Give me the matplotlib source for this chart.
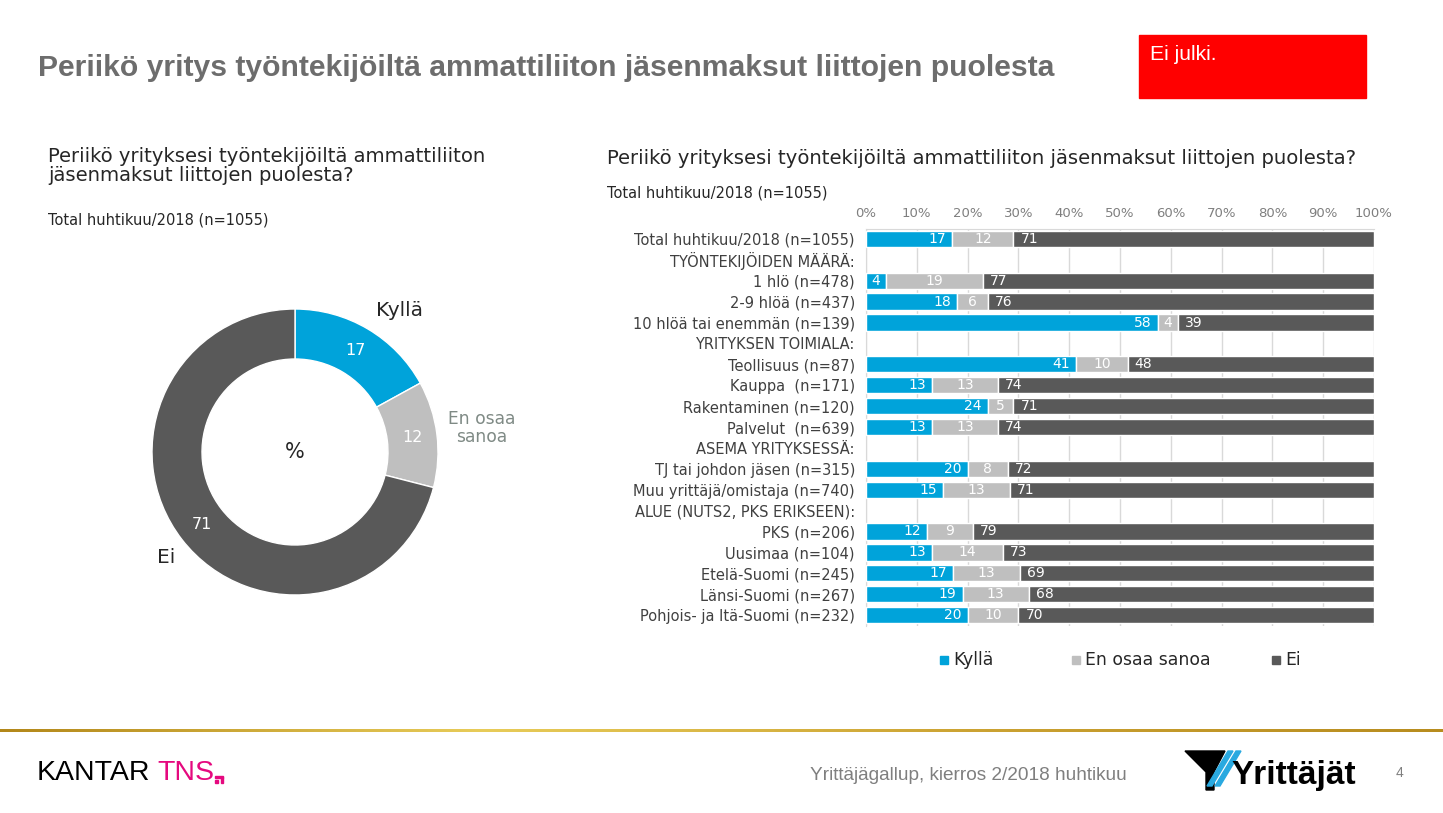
import numpy as np
import matplotlib.pyplot as plt
from matplotlib.patches import Rectangle, Polygon

# Data
categories = ['Total huhtikuu/2018 (n=1055)', 'TYÖNTEKIJÖIDEN MÄÄRÄ:', '1 hlö (n=478)',
              '2-9 hlöä (n=437)', '10 hlöä tai enemmän (n=139)', 'YRITYKSEN TOIMIALA:',
              'Teollisuus (n=87)', 'Kauppa  (n=171)', 'Rakentaminen (n=120)', 'Palvelut  (n=639)',
              'ASEMA YRITYKSESSÄ:', 'TJ tai johdon jäsen (n=315)', 'Muu yrittäjä/omistaja (n=740)',
              'ALUE (NUTS2, PKS ERIKSEEN):', 'PKS (n=206)', 'Uusimaa (n=104)', 'Etelä-Suomi (n=245)',
              'Länsi-Suomi (n=267)', 'Pohjois- ja Itä-Suomi (n=232)']
kylla = [17, None, 4, 18, 58, None, 41, 13, 24, 13, None, 20, 15, None, 12, 13, 17, 19, 20]
en_osaa = [12, None, 19, 6, 4, None, 10, 13, 5, 13, None, 8, 13, None, 9, 14, 13, 13, 10]
ei = [71, None, 77, 76, 39, None, 48, 74, 71, 74, None, 72, 71, None, 79, 73, 69, 68, 70]
series_names = ['Kyllä', 'En osaa sanoa', 'Ei']
x_ticks = [0, 10, 20, 30, 40, 50, 60, 70, 80, 90, 100]

donut_labels = ['Kyllä', 'En osaa\nsanoa', 'Ei']
donut_values = [17, 12, 71]

BLUE = '#00A3DA'
LGRAY = '#BFBFBF'
DGRAY = '#595959'
colors = [BLUE, LGRAY, DGRAY]

W, H = 1443, 813
def fx(x):
    return x / W
def fy(y):
    return 1 - y / H

plt.rcParams['font.family'] = ['DejaVu Sans']
fig = plt.figure(figsize=(W / 100, H / 100), dpi=100)

# Header
fig.text(fx(38), fy(68), 'Periikö yritys työntekijöiltä ammattiliiton jäsenmaksut liittojen puolesta',
         fontsize=21.7, fontweight='bold', color='#6d6d6d', family='Liberation Sans', va='center')
fig.patches.append(Rectangle((fx(1139), fy(98)), fx(1366) - fx(1139), fy(35) - fy(98),
                             transform=fig.transFigure, color='#FF0000', zorder=0))
fig.text(fx(1150), fy(55), 'Ei julki.', fontsize=15.2, color='white', family='Liberation Sans', va='center')

# Left: donut
fig.text(fx(48), fy(166), 'Periikö yrityksesi työntekijöiltä ammattiliiton\njäsenmaksut liittojen puolesta?',
         fontsize=14.1, color='#262626', va='center', linespacing=1.05)
fig.text(fx(48), fy(220), 'Total huhtikuu/2018 (n=1055)', fontsize=10.5, color='#262626', va='center')

ax_d = fig.add_axes([fx(145), fy(602), 300 / W, 300 / H])
wedges, _ = ax_d.pie(donut_values, colors=colors, startangle=90, counterclock=False,
                     radius=143 / 150, wedgeprops=dict(width=50 / 150, edgecolor='white', linewidth=1))
ax_d.set_xlim(-1, 1)
ax_d.set_ylim(-1, 1)
ax_d.set_aspect('equal')
ax_d.axis('off')
ax_d.text(0, 0, '%', ha='center', va='center', fontsize=15, color='#262626')

# value labels and category labels on the donut
cum = 0
val_pos = []
for v in donut_values:
    mid = 90 - (cum + v / 2) / sum(donut_values) * 360
    val_pos.append(mid)
    cum += v
r_mid = (143 - 25) / 150
for v, ang in zip(donut_values, val_pos):
    a = np.deg2rad(ang)
    ax_d.text(r_mid * np.cos(a), r_mid * np.sin(a), str(v), ha='center', va='center',
              color='white', fontsize=11.5)
fig.text(fx(400), fy(311), donut_labels[0], fontsize=14.5, color='#262626', ha='center', va='center')
fig.text(fx(482), fy(428), donut_labels[1], fontsize=12.3, color='#7f8a85', ha='center', va='center',
         linespacing=1.05)
fig.text(fx(166), fy(557), donut_labels[2], fontsize=14.5, color='#262626', ha='center', va='center')

# Right: stacked bars
fig.text(fx(607), fy(158), 'Periikö yrityksesi työntekijöiltä ammattiliiton jäsenmaksut liittojen puolesta?',
         fontsize=14.1, color='#262626', va='center')
fig.text(fx(607), fy(193), 'Total huhtikuu/2018 (n=1055)', fontsize=10.5, color='#262626', va='center')

ax = fig.add_axes([fx(866), fy(625.5), (1374 - 866) / W, 397 / H])
y = np.arange(len(categories))
for i in y:
    if kylla[i] is None:
        continue
    vals = [kylla[i], en_osaa[i], ei[i]]
    total = sum(vals)
    left = 0
    for j, v in enumerate(vals):
        w = v / total * 100
        ax.barh(i, w, left=left, height=0.78, color=colors[j], edgecolor='white', linewidth=1, zorder=3)
        if j == 0:
            ax.text(left + w - 1.2, i, str(v), ha='right', va='center', color='white', fontsize=10, zorder=4)
        elif j == 1:
            ax.text(left + w / 2, i, str(v), ha='center', va='center', color='white', fontsize=10, zorder=4)
        else:
            ax.text(left + 1.4, i, str(v), ha='left', va='center', color='white', fontsize=10, zorder=4)
        left += w

ax.set_xlim(0, 100)
ax.set_ylim(len(categories) - 0.5, -0.5)
ax.set_yticks(y)
ax.set_yticklabels(categories, fontsize=10.5, color='#404040')
ax.set_xticks(x_ticks)
ax.set_xticklabels([f'{t}%' for t in x_ticks], fontsize=9.5, color='#7f7f7f')
ax.xaxis.tick_top()
ax.tick_params(axis='x', length=0, pad=6)
ax.tick_params(axis='y', length=0, pad=8)
ax.grid(axis='x', color='#d9d9d9', linewidth=1, zorder=0)
for s in ['right', 'bottom']:
    ax.spines[s].set_visible(False)
for s in ['left', 'top']:
    ax.spines[s].set_color('#d9d9d9')

# legend
leg_x = [940, 1072, 1272]
for name, c, lx in zip(series_names, colors, leg_x):
    fig.patches.append(Rectangle((fx(lx), fy(664)), 8 / W, 8 / H, transform=fig.transFigure, color=c))
    fig.text(fx(lx + 13), fy(660), name, fontsize=12.4, color='#262626', va='center')

# Footer
ax_line = fig.add_axes([0, fy(732), 1, 3 / H])
grad = np.linspace(0, 1, 300)
gold = np.array([[0.70, 0.53, 0.10], [0.91, 0.80, 0.35], [0.80, 0.64, 0.20], [0.72, 0.55, 0.12]])
pos = np.linspace(0, 1, len(gold))
img = np.stack([np.interp(grad, pos, gold[:, k]) for k in range(3)], axis=-1)[None, :, :]
ax_line.imshow(img, aspect='auto', extent=[0, 1, 0, 1])
ax_line.axis('off')

PINK = '#E5097F'
fig.text(fx(37), fy(773), 'KANTAR', fontsize=20.5, color='black', family='Liberation Sans', va='center')
fig.text(fx(157), fy(773), 'TNS', fontsize=20.5, color=PINK, family='Liberation Sans', va='center')
fig.patches.append(Rectangle((fx(215), fy(783)), 3 / W, 3 / H, transform=fig.transFigure, color=PINK))
fig.patches.append(Rectangle((fx(215), fy(778)), 8 / W, 2 / H, transform=fig.transFigure, color=PINK))
fig.patches.append(Rectangle((fx(221), fy(783)), 2 / W, 6 / H, transform=fig.transFigure, color=PINK))
fig.text(fx(1127), fy(775), 'Yrittäjägallup, kierros 2/2018 huhtikuu', fontsize=13.7, color='#7f7f7f',
         family='Liberation Sans', ha='right', va='center')
fig.text(fx(1400), fy(773), '4', fontsize=10, color='#7f7f7f', family='Liberation Sans', ha='center', va='center')

# Yrittäjät logo mark
tri = [(1185, 751), (1225, 751), (1214, 772), (1214, 790), (1206, 790), (1206, 772)]
fig.patches.append(Polygon([(fx(a), fy(b)) for a, b in tri], closed=True, transform=fig.transFigure,
                           color='black'))
for off in [0, 8]:
    stripe = [(1228 + off, 751), (1233 + off, 751), (1212 + off, 786), (1207 + off, 786)]
    fig.patches.append(Polygon([(fx(a), fy(b)) for a, b in stripe], closed=True,
                               transform=fig.transFigure, color='#29A9E0'))
fig.text(fx(1231), fy(775), 'Yrittäjät', fontsize=24, fontweight='bold', color='black',
         family='Liberation Sans', va='center')

fig.savefig('out.png', dpi=100)
